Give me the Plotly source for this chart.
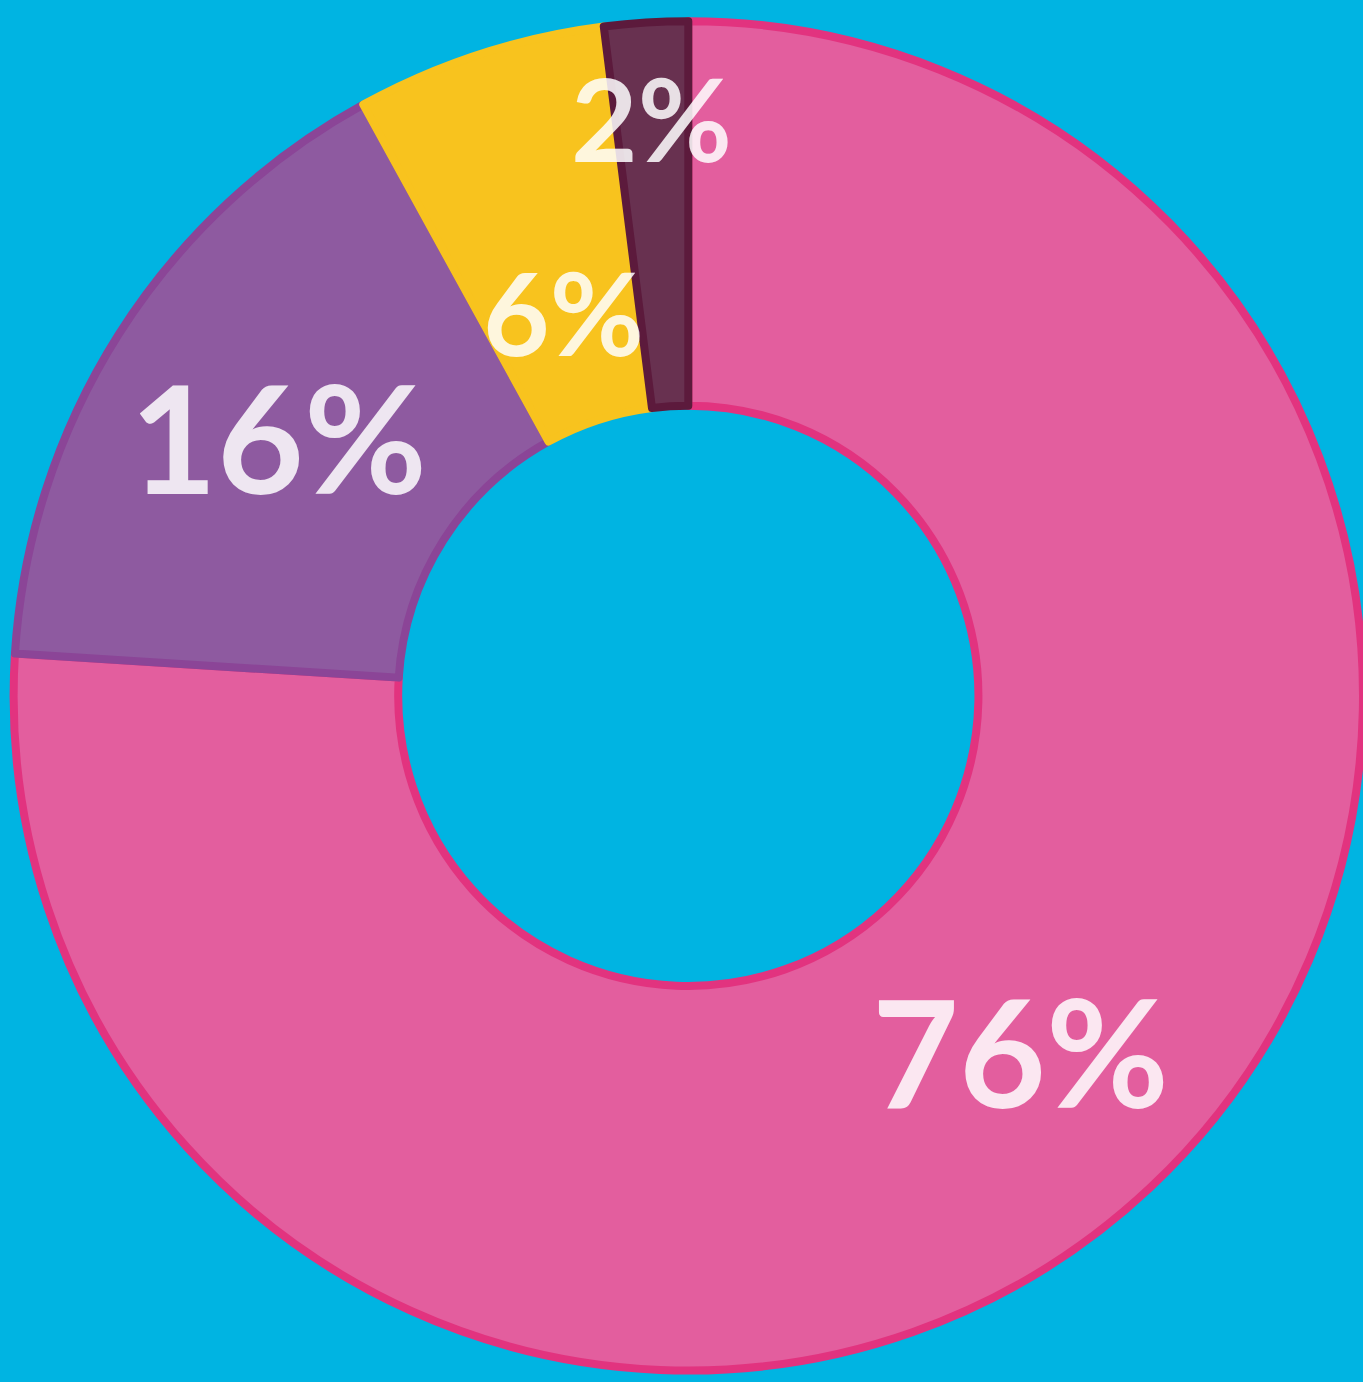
import math
import plotly.graph_objects as go

# Data
categories = ["Pink", "Purple", "Yellow", "Maroon"]
values = [76, 16, 6, 2]
text_labels = ["76%", "16%", "6%", "2%"]

fill_colors = ["#E35E9E", "#8E5AA0", "#F8C31E", "#683150"]
border_colors = ["#E2337F", "#8B4597", "#F8C31E", "#5C1A3C"]

# label style: radial position (fraction of outer radius) and font size
label_radius = [0.72, 0.72, 0.60, 0.86]
label_size = [150, 150, 115, 115]

W, H = 1363, 1382
dom_x = [0.01, 1.0]
dom_y = [0.003, 0.99]
HOLE = 0.43

fig = go.Figure(
    go.Pie(
        labels=categories,
        values=values,
        textinfo="none",
        hole=HOLE,
        sort=False,
        direction="clockwise",
        rotation=0,
        marker=dict(colors=fill_colors, line=dict(color=border_colors, width=8)),
        domain=dict(x=dom_x, y=dom_y),
        showlegend=False,
        hoverinfo="label+value",
    )
)

# place labels at each slice's mid-angle (derived from the values)
total = sum(values)
R_px = min((dom_x[1] - dom_x[0]) * W, (dom_y[1] - dom_y[0]) * H) / 2
cx = (dom_x[0] + dom_x[1]) / 2
cy = (dom_y[0] + dom_y[1]) / 2
cum = 0
for v, t, rf, fs in zip(values, text_labels, label_radius, label_size):
    mid = (cum + v / 2) / total * 2 * math.pi  # clockwise from 12 o'clock
    cum += v
    r = rf * R_px
    x = cx + r * math.sin(mid) / W
    y = cy + r * math.cos(mid) / H
    fig.add_annotation(
        x=x, y=y, xref="paper", yref="paper",
        text=t, showarrow=False,
        xanchor="center", yanchor="middle",
        font=dict(family="Lato, 'Open Sans', sans-serif", size=fs,
                  color="rgba(255,255,255,0.85)", weight="bold"),
    )

fig.update_layout(
    width=W,
    height=H,
    margin=dict(l=0, r=0, t=0, b=0),
    paper_bgcolor="#00B4E2",
    plot_bgcolor="#00B4E2",
)

fig.write_html(
    "out.html",
    config={"displayModeBar": False},
    post_script="document.body.style.margin='0';document.body.style.background='#00B4E2';",
)
